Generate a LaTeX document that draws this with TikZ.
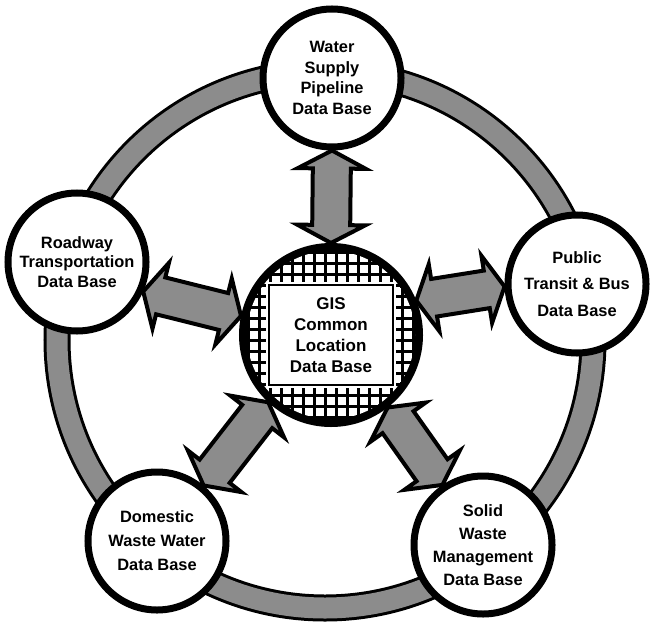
\documentclass[tikz,border=0pt]{standalone}
\usepackage{fontspec}
\setmainfont{Liberation Sans}
\usepackage{tikz}
\usetikzlibrary{calc,backgrounds}
\definecolor{hatchgray}{gray}{0.55}
\newcommand{\hdlen}{0.54cm}
\newcommand{\hdwid}{1.02cm}
\newcommand{\shwid}{0.57cm}
% double block arrow between two border points
\newcommand{\dbarrow}[3]{%
  \coordinate (#3a) at ($(#1)!\hdlen!(#2)$);
  \coordinate (#3b) at ($(#2)!\hdlen!(#1)$);
  \draw[blockarrow] (#1) -- ($(#3a)!\hdwid!90:(#2)$) -- ($(#3a)!\shwid!90:(#2)$)
    -- ($(#3b)!\shwid!-90:(#1)$) -- ($(#3b)!\hdwid!-90:(#1)$) -- (#2)
    -- ($(#3b)!\hdwid!90:(#1)$) -- ($(#3b)!\shwid!90:(#1)$)
    -- ($(#3a)!\shwid!-90:(#2)$) -- ($(#3a)!\hdwid!-90:(#2)$) -- cycle;}
\tikzset{
  db/.style={circle,draw=black,fill=white,line width=0.21cm,
             minimum size=4.14cm,inner sep=0pt,align=center,
             font=\bfseries\fontsize{14}{#1}\selectfont},
  db/.default=18,
  blockarrow/.style={draw=black,fill=hatchgray,line width=0.12cm,
                     line join=miter},
}

\begin{document}
\begin{tikzpicture}[x=0.03cm,y=-0.03cm]
    \useasboundingbox (0,0) rectangle (651,621);
    \coordinate (hub) at (325,340);
    % data bases round the ring
    \node[db=17.5] (water) at (332,78) {Water\\Supply\\Pipeline\\Data Base};
    \node[db=16.5] (roadway) at (77,262) {Roadway\\Transportation\\Data Base};
    \node[db=22.5] (public) at (577,284) {Public\\Transit \& Bus\\Data Base};
    \node[db=20.5] (domestic) at (157,541) {Domestic\\Waste Water\\Data Base};
    \node[db=19.5] (solid) at (483,545) {Solid\\Waste\\Management\\Data Base};
    % common location data base with grid
    \node[circle,draw=black,fill=black,line width=0.24cm,
          minimum size=5.28cm] (gis) at (331,335) {};
    \begin{scope}
      \clip (gis.center) circle[radius=84];
      \foreach \i in {-8,...,8}
        \foreach \j in {-8,...,8}
          \fill[white] ($(gis.center)+(11*\i-4,11*\j-4)$) rectangle +(8,8);
    \end{scope}
    \node[draw=black,fill=white,line width=0.06cm,
          preaction={draw=white,line width=0.2cm},
          minimum width=3.7cm,minimum height=3.0cm,align=center,
          font=\bfseries\fontsize{14.5}{18}\selectfont] (gisbox) at (gis.center)
      {GIS\\Common\\Location\\Data Base};
    \begin{scope}[on background layer]
      \draw[line width=0.81cm] (hub) circle[radius=268];
      \draw[hatchgray,line width=0.63cm] (hub) circle[radius=268];
      \dbarrow{gis.90}{water.270}{aw}
      \dbarrow{gis.22}{public.182}{ap}
      \dbarrow{gis.168}{roadway.336}{ar}
      \dbarrow{gis.227}{domestic.50}{ad}
      \dbarrow{gis.308}{solid.124}{as}
    \end{scope}
  \end{tikzpicture}
\end{document}
